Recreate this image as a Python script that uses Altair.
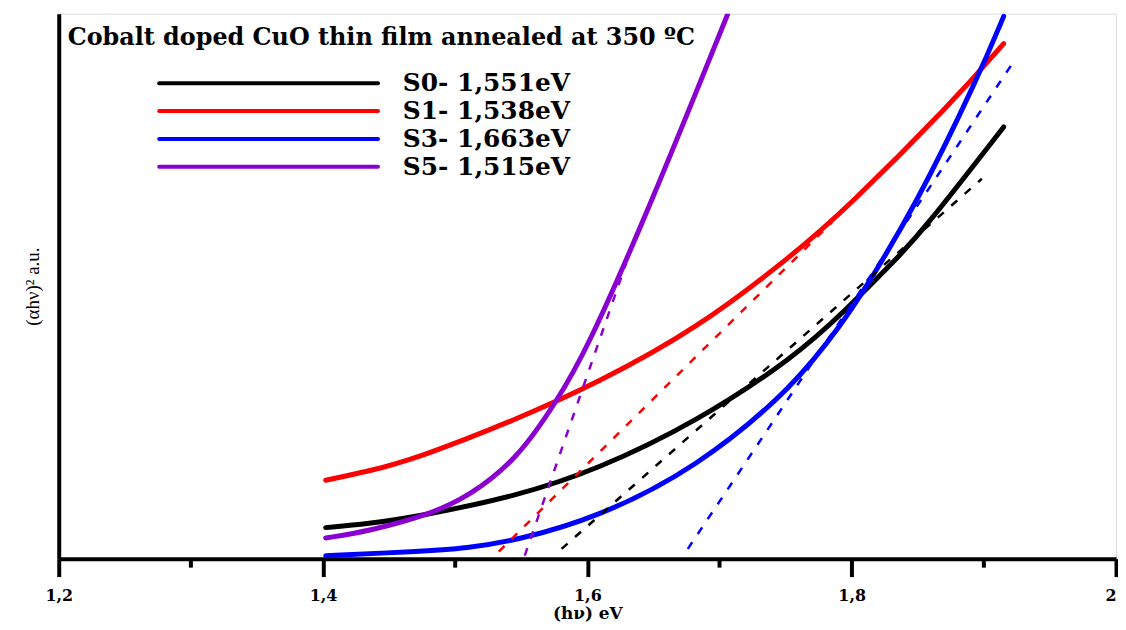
import altair as alt
import pandas as pd

# ---- data ----
labels = ["S0- 1,551eV", "S1- 1,538eV", "S3- 1,663eV", "S5- 1,515eV"]
colors = ["#000000", "#ff0000", "#0000ff", "#8a00d0"]

s0_x = [1.402, 1.434, 1.471, 1.547, 1.607, 1.682, 1.757, 1.795, 1.832, 1.855, 1.915]
s0_y = [5.7, 6.4, 7.7, 11.5, 16.3, 25.0, 37.0, 45.5, 54.5, 60.5, 79.2]

s1_x = [1.402, 1.434, 1.471, 1.547, 1.607, 1.682, 1.757, 1.795, 1.877, 1.915]
s1_y = [14.4, 16.0, 18.4, 25.6, 32.2, 42.0, 56.0, 64.0, 83.9, 94.5]

s3_x = [1.402, 1.471, 1.509, 1.547, 1.607, 1.682, 1.757, 1.795, 1.8075, 1.849, 1.896, 1.915]
s3_y = [0.55, 1.3, 1.9, 3.4, 7.5, 16.5, 31.6, 44.0, 48.5, 65.0, 88.5, 99.5]

s5_x = [1.402, 1.434, 1.479, 1.509, 1.547, 1.577, 1.599, 1.647, 1.706]
s5_y = [3.8, 5.0, 8.0, 11.2, 18.2, 29.0, 38.0, 64.4, 99.8]

# tangent (extrapolation) segments
d0_x = [1.5805, 1.8985]
d0_y = [1.8, 69.7]
d1_x = [1.533, 1.785]
d1_y = [1.3, 61.7]
d3_x = [1.676, 1.9226]
d3_y = [1.8, 91.2]
d5_x = [1.5526, 1.6293]
d5_y = [0.55, 54.2]

x_ticks = [1.2, 1.4, 1.6, 1.8, 2.0]
x_tick_labels = ["1,2", "1,4", "1,6", "1,8", "2"]
x_minor = [1.3, 1.5, 1.7, 1.9]

title_text = "Cobalt doped CuO thin film annealed at 350 \u00baC"
x_title = "(h\u03bd) eV"
y_title = "(\u03b1h\u03bd)\u00b2 a.u."

# ---- tables ----
rows = []
for lab, xs, ys in zip(labels, [s0_x, s1_x, s3_x, s5_x], [s0_y, s1_y, s3_y, s5_y]):
    for a, b in zip(xs, ys):
        rows.append({"series": lab, "hv": a, "val": b})
solid = pd.DataFrame(rows)

drows = []
for lab, xs, ys in zip(labels, [d0_x, d1_x, d3_x, d5_x], [d0_y, d1_y, d3_y, d5_y]):
    for a, b in zip(xs, ys):
        drows.append({"series": lab, "hv": a, "val": b})
dashed = pd.DataFrame(drows)

W, H = 1063, 548
serif = "DejaVu Serif"

color_scale = alt.Scale(domain=labels, range=colors)
label_expr = "[" + ",".join("'" + t + "'" for t in x_tick_labels) + "][round((datum.value-1.2)/0.2)]"

x_enc = alt.X(
    "hv:Q",
    scale=alt.Scale(domain=[1.2, 2.0], nice=False, zero=False),
    axis=alt.Axis(
        values=x_ticks, labelExpr=label_expr, title=x_title, grid=False,
        domainColor="black", domainWidth=4, tickColor="black", tickWidth=4, tickSize=18,
        labelFont=serif, labelFontWeight="bold", labelFontSize=16, labelColor="black",
        labelAlign={"condition": {"test": "datum.value >= 1.99", "value": "right"}, "value": "center"},
        labelPadding=11, titleFont=serif, titleFontWeight="bold", titleFontSize=17,
        titleColor="black", titlePadding=2, labelFlush=False,
    ),
)
y_enc = alt.Y(
    "val:Q",
    scale=alt.Scale(domain=[0, 100], nice=False),
    axis=alt.Axis(
        title=y_title, labels=False, ticks=False, grid=False,
        domainColor="black", domainWidth=4,
        titleFont="Liberation Serif", titleFontWeight="normal", titleFontSize=19,
        titleColor="black", titlePadding=16,
    ),
)

solid_layer = alt.Chart(solid).mark_line(
    strokeWidth=5, interpolate="basis", strokeCap="round", clip=True
).encode(x=x_enc, y=y_enc, color=alt.Color("series:N", scale=color_scale, legend=None))

dashed_layer = alt.Chart(dashed).mark_line(
    strokeWidth=2.5, strokeDash=[8, 10], clip=True
).encode(x=x_enc, y=y_enc, color=alt.Color("series:N", scale=color_scale, legend=None))

minor_layer = alt.Chart(pd.DataFrame({"hv": x_minor})).mark_rule(
    strokeWidth=4, color="black"
).encode(x=x_enc, y=alt.value(H), y2=alt.value(H + 9))

title_layer = alt.Chart(pd.DataFrame({"t": [title_text]})).mark_text(
    align="left", baseline="middle", font=serif, fontWeight="bold", fontSize=24, color="black"
).encode(x=alt.value(9), y=alt.value(25), text="t:N")

legend_layers = []
for i, lab in enumerate(labels):
    d = pd.DataFrame({"series": [lab]})
    legend_layers.append(
        alt.Chart(d).mark_rule(strokeWidth=4, strokeCap="round").encode(
            x=alt.value(101), x2=alt.value(321), y=alt.value(70 + 28 * i),
            color=alt.Color("series:N", scale=color_scale, legend=None),
        )
    )
    legend_layers.append(
        alt.Chart(d).mark_text(
            align="left", baseline="middle", font=serif, fontWeight="bold", fontSize=25, color="black"
        ).encode(x=alt.value(346), y=alt.value(70 + 28 * i), text="series:N")
    )

chart = alt.layer(
    solid_layer, dashed_layer, minor_layer, title_layer, *legend_layers
).properties(
    width=W, height=H,
    padding={"left": 51, "top": 4, "right": 2, "bottom": 62},
    autosize=alt.AutoSizeParams(type="none"),
).configure_view(stroke="black", strokeWidth=3).configure(background="white")

chart.save("out.html", embed_options={"renderer": "svg", "actions": False})
